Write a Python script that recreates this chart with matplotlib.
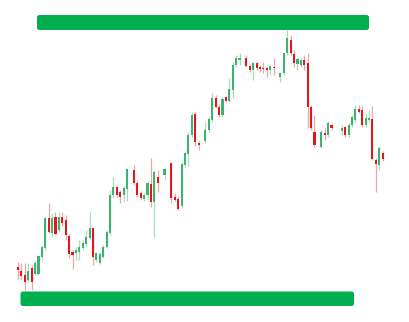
import numpy as np
import matplotlib
matplotlib.use("Agg")
import matplotlib.pyplot as plt
from matplotlib.patches import FancyBboxPatch

nan = np.nan

# OHLC per session, NaN marks sessions with no candle
opens = [53.3, 49.3, 45, 40, 52, 46, 46, 63.3, 72, 102, 87, 103.3, 90, 103.3, 100, 84, 68.3, 67, 68.3, 72,
         76, 82, 92.3, 60, 57.3, 63.3, 73.3, 87, 125, 133.3, 128.3, 125, 131, nan, 150, 137, 127.3, 121, 125, 136,
         118.3, 143.3, nan, 145, nan, 157, 123, 121, 114, 155, 166, 185, 206, 177.3, nan, 179.3, 190, 200, 222, 213.3,
         205, 223, 219.3, 230, 255, 260, nan, 262.3, 254.3, 250, 257, 253.3, 252.3, 251.7, 250, 253.3, nan, 243.3, 246.7, 267,
         280, 266, 256, 255, 260, 257, 213, 188.3, nan, 173.3, 187.3, 185, 195, nan, nan, 189.3, 193.3, 185, 195, 200,
         211, 210, 195, 200, 201, 160, 155, 167.3]
closes = [50, 44, 38.3, 49.3, 38.3, 57, 64, 73.3, 102, 88.3, 102, 86, 103.3, 97.3, 85, 66, 65, 70, 73.3, 77,
          83, 92, 63, 67, 66, 73.3, 88.3, 125, 133.3, 125, 123.3, 132, 151, nan, 137, 125, 122, 125, 137, 118.3,
          148, 137, nan, 151, nan, 122, 120.5, 111, 156, 167, 185, 205, 178, 175, nan, 190, 201, 222, 213.3, 205,
          221, 219.3, 231, 255, 262, 262, nan, 254.3, 250, 257, 251.7, 251, 250.7, 250, 254, 251.7, nan, 247, 267, 282,
          267, 257, 261, 260, 255, 213.3, 192, 175, nan, 188.3, 185.5, 197, 191.7, nan, nan, 192, 185, 195, 203.3, 211,
          208.3, 195, 202, 202, 161, 156, 172, 160.7]
highs = [58, 57, 57, 57, 55, 60, 65, 75, 103, 117, 107, 108, 108, 108, 105, 86, 70, 73, 80, 80,
         90, 108.3, 93.3, 68, 68, 75, 90, 130, 143.3, 135, 130, 134, 152, nan, 155, 139, 129, 127, 139, 162,
         150, 150, nan, 152, nan, 158, 127, 124, 158, 169, 188, 208, 208, 179, nan, 198, 203, 227, 225, 216,
         223, 224, 242, 258, 265, 267, nan, 265, 256, 258, 258, 255, 258, 254, 255, 262, nan, 248, 267, 290,
         285, 270, 262, 262, 265, 267, 215, 205, nan, 190, 192, 199, 196, nan, nan, 195, 194, 197, 205, 215,
         215, 214, 207, 210, 214, 162, 174, 169]
lows = [41, 40, 30, 38, 30, 45, 45, 60, 70, 87, 84, 85, 88, 94, 80, 62, 51, 60, 60, 70,
        73, 80, 55, 58, 56, 62, 72, 85, 123, 123, 117, 118, 119, nan, 135, 123, 120, 119, 120, 113.3,
        83.3, 128.3, nan, 141, nan, 117, 119, 110, 112, 153, 154, 183, 174, 170, nan, 177, 188, 198, 212, 203,
        203, 218, 218, 222, 253, 255, nan, 253, 248, 240, 250, 248, 247, 243, 245, 245, nan, 238, 245, 265,
        265, 253, 250, 253, 250, 192, 190, 173.3, nan, 172, 180, 183, 190, nan, nan, 185, 183, 183, 193, 198,
        207, 193, 193, 198, 160, 128.3, 150, 159]

UP_BODY, UP_WICK = "#3cb371", "#a8dcbd"
DOWN_BODY, DOWN_WICK = "#e8131b", "#e9a9aa"
BAND = "#00b04f"

o = np.array(opens, float)
c = np.array(closes, float)
h = np.array(highs, float)
l = np.array(lows, float)
idx = np.arange(len(o))
ok = ~np.isnan(o)
up = c >= o

fig = plt.figure(figsize=(4.1, 3.22), dpi=100)
ax = fig.add_axes([0, 0, 1, 1])
ax.set_axis_off()
step = 3.408
ax.set_xlim(-18 / step, (410 - 18) / step)
ax.set_ylim(-2, 320)

wick_col = np.where(up, UP_WICK, DOWN_WICK)
body_col = np.where(up, UP_BODY, DOWN_BODY)
ax.vlines(idx[ok], l[ok], h[ok], colors=wick_col[ok], linewidth=0.9, zorder=1)
bottom = np.minimum(o, c)
height = np.maximum(np.abs(c - o), 1.6)
ax.bar(idx[ok], height[ok], bottom=bottom[ok], width=0.62, color=body_col[ok], linewidth=0, zorder=2)

# green bands drawn in pixel coordinates
ov = fig.add_axes([0, 0, 1, 1], facecolor="none")
ov.set_axis_off()
ov.set_xlim(0, 410)
ov.set_ylim(322, 0)
ov.add_patch(FancyBboxPatch((37, 15), 332, 15, boxstyle="round,pad=0,rounding_size=2.5",
                            facecolor=BAND, edgecolor="none"))
ov.add_patch(FancyBboxPatch((20.5, 291.5), 333.5, 14.5, boxstyle="round,pad=0,rounding_size=2.5",
                            facecolor=BAND, edgecolor="none"))

fig.savefig("out.png", dpi=100, facecolor="white")
